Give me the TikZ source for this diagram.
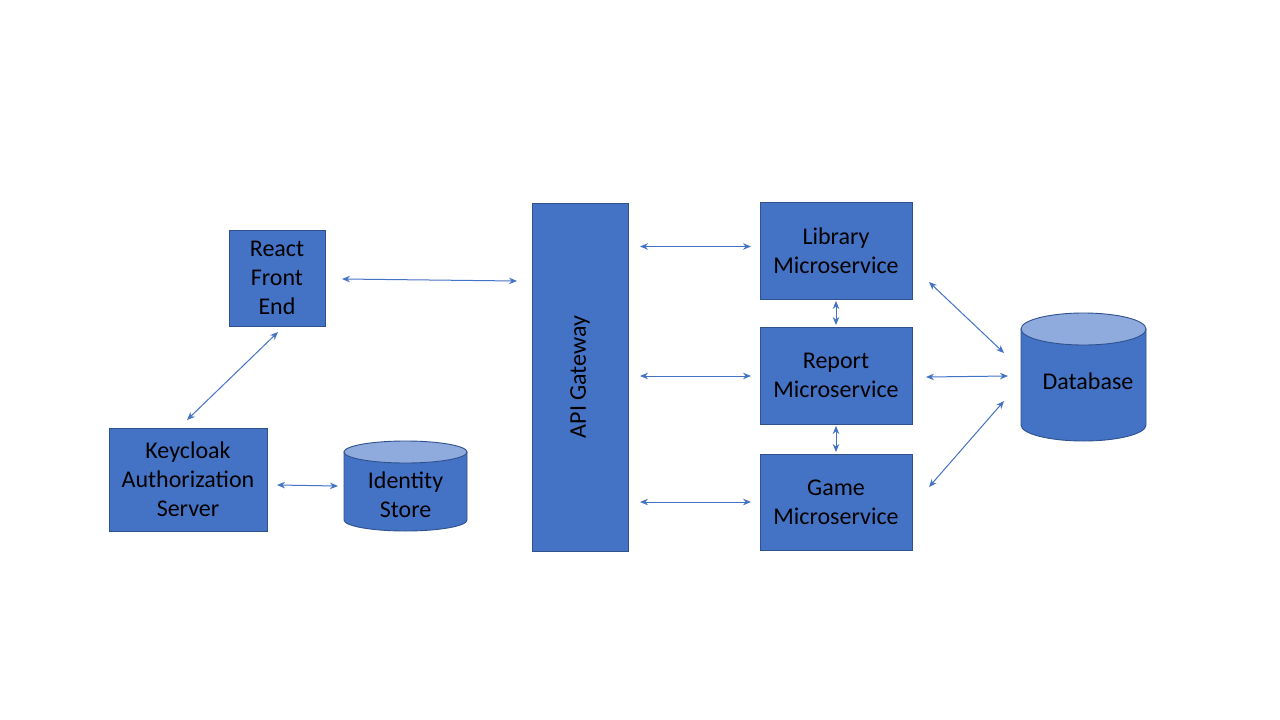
\documentclass[tikz,border=0pt]{standalone}
\usepackage{fontspec}
\setmainfont{Carlito}
\usetikzlibrary{arrows.meta}
\definecolor{boxfill}{HTML}{4472C4}
\definecolor{boxline}{HTML}{2F528F}
\definecolor{topfill}{HTML}{8FAADC}
\definecolor{arrowc}{HTML}{4472C4}
\tikzset{
  blk/.style={draw=boxline, fill=boxfill, line width=0.9pt, inner sep=0pt, align=center,
    font=\fontsize{24}{29}\selectfont, text=black},
  link/.style={draw=arrowc, line width=1pt, {Stealth[length=8pt,width=6.5pt]}-{Stealth[length=8pt,width=6.5pt]}},
  cyl/.style={draw=boxline, line width=0.9pt},
  lbl/.style={inner sep=0pt, align=center, font=\fontsize{24}{29}\selectfont, text=black}
}
\begin{document}
\begin{tikzpicture}[x=1pt,y=-1pt]
\useasboundingbox (0,0) rectangle (1280,720);
\fill[white] (0,0) rectangle (1280,720);

% boxes
\node[blk, minimum width=96pt, minimum height=96pt] (react) at (277,278) {React\\Front\\End};
\node[blk, minimum width=158pt, minimum height=103pt] (kc) at (188,479.5) {Keycloak\\Authorization\\Server};
\node[blk, minimum width=96pt, minimum height=348pt] (api) at (580,377) {};
\node[lbl, rotate=90] (apil) at (580,377) {API Gateway};
\node[blk, minimum width=152pt, minimum height=97pt] (lib) at (836,250.5) {Library\\Microservice};
\node[blk, minimum width=152pt, minimum height=97pt] (rep) at (836,375.5) {Report\\Microservice};
\node[blk, minimum width=152pt, minimum height=96pt] (game) at (836,502) {Game\\Microservice};

% identity store cylinder
\filldraw[cyl, fill=boxfill] (344,452) -- (344,520) arc[start angle=180, end angle=0, x radius=61.5, y radius=11] -- (467,452) -- cycle;
\filldraw[cyl, fill=topfill] (405.5,452) ellipse[x radius=61.5, y radius=11];
\node[lbl] (ids) at (405.5,494.5) {Identity\\Store};

% database cylinder
\filldraw[cyl, fill=boxfill] (1021,329) -- (1021,425) arc[start angle=180, end angle=0, x radius=62.5, y radius=16] -- (1146,329) -- cycle;
\filldraw[cyl, fill=topfill] (1083.5,329) ellipse[x radius=62.5, y radius=16];
\node[lbl] (db) at (1088,381) {Database};

% free ends
\coordinate (ra) at (342,279);
\coordinate (ab) at (517,281);
\coordinate (rk1) at (278,332);
\coordinate (rk2) at (187,420);
\coordinate (k1) at (277,485);
\coordinate (i1) at (338,486);
\coordinate (g1) at (640,246.5);
\coordinate (g2) at (751,246.5);
\coordinate (g3) at (640,376);
\coordinate (g4) at (751,376);
\coordinate (g5) at (640,502);
\coordinate (g6) at (751,502);
\coordinate (l1) at (929,282);
\coordinate (d1) at (1004,353);
\coordinate (r1) at (926,377);
\coordinate (d2) at (1008,376);
\coordinate (m1) at (929,487);
\coordinate (d3) at (1004,401);

% connectors
\draw[link] (ra) -- (ab);
\draw[link] (rk1) -- (rk2);
\draw[link] (k1) -- (i1);
\draw[link] (g1) -- (g2);
\draw[link] (g3) -- (g4);
\draw[link] (g5) -- (g6);
\draw[link, shorten <=1.5pt, shorten >=1.5pt] (lib.south) -- (rep.north);
\draw[link, shorten <=1.5pt, shorten >=1.5pt] (rep.south) -- (game.north);
\draw[link] (l1) -- (d1);
\draw[link] (r1) -- (d2);
\draw[link] (m1) -- (d3);
\end{tikzpicture}
\end{document}
